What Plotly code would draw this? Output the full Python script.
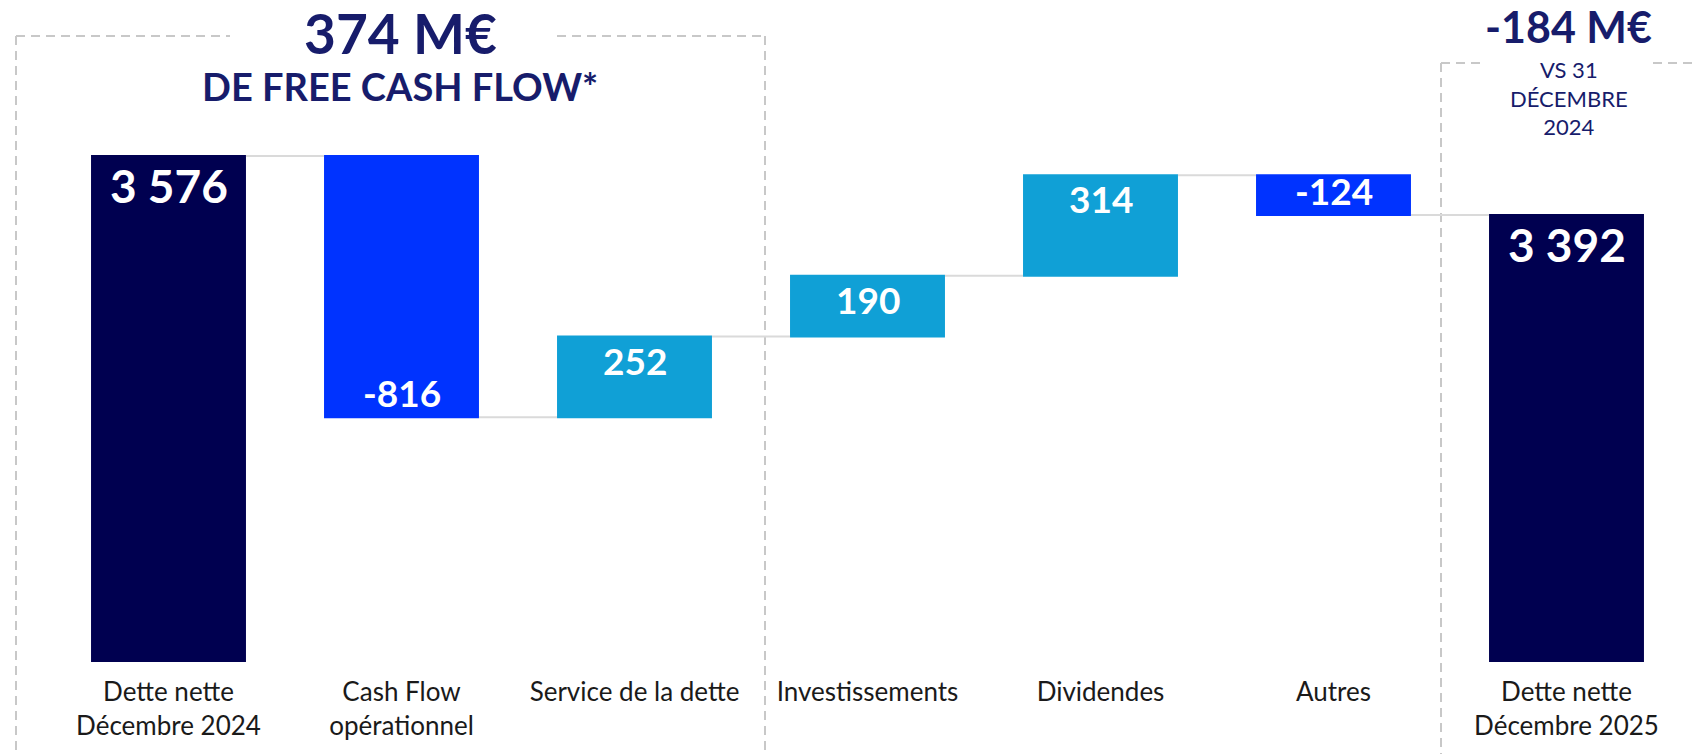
import plotly.graph_objects as go

# ---- data ----
categories = ["Dette nette<br>Décembre 2024", "Cash Flow<br>opérationnel", "Service de la dette",
              "Investissements", "Dividendes", "Autres", "Dette nette<br>Décembre 2025"]
values = [3576, -816, 252, 190, 314, -124, 3392]
measures = ["absolute", "relative", "relative", "relative", "relative", "relative", "total"]
free_cash_flow_label = "374 M€"
variation_label = "-184 M€"

# ---- style ----
W, H = 1693, 754
ML, MR, MT, MB = 52, 10, 100, 92
NAVY = "#000050"
BLUE = "#0033FF"
LIGHT = "#10A0D6"
TITLE = "#171C6B"
DASH = "#C8C8C8"
FONT = "Lato"

def fmt(v):
    s = f"{abs(v):,}".replace(",", " ")
    return ("-" if v < 0 else "") + s

fig = go.Figure(go.Waterfall(
    x=categories, y=values, measure=measures,
    textposition="none",
    totals=dict(marker=dict(color=NAVY)),
    increasing=dict(marker=dict(color=LIGHT)),
    decreasing=dict(marker=dict(color=BLUE)),
    connector=dict(line=dict(color="#DADADA", width=2)),
    width=[0.665] * len(values),
    hoverinfo="skip",
))

# value labels inside bars (positions derived from running totals)
running = 0
for cat, v, m in zip(categories, values, measures):
    if m == "absolute":
        start, end = 0, v
        running = v
    elif m == "total":
        start, end = 0, running
    else:
        start, end = running, running + v
        running = end
    is_total = m in ("absolute", "total")
    if end >= start:
        ya, ys = "top", 0 if is_total else 1
    else:
        ya, ys = "bottom", 0
    fig.add_annotation(
        x=cat, y=end, xref="x", yref="y", yanchor=ya, yshift=ys, xanchor="center",
        text=f"<b>{fmt(v if m != 'total' else running)}</b>",
        showarrow=False,
        font=dict(family=FONT, size=46 if is_total else 37, color="white"),
    )

pw = W - ML - MR
ph = H - MT - MB

def px_x(x):
    return (x - ML) / pw

def px_y(y):
    return (H - MB - y) / ph

# dashed frames
segs = [
    (16, 36, 230, 36), (557, 36, 765, 36), (16, 36, 16, 760), (765, 36, 765, 760),
    (1441, 63, 1482, 63), (1653, 63, 1700, 63), (1441, 63, 1441, 760),
]
for x0, y0, x1, y1 in segs:
    fig.add_shape(type="line", xref="paper", yref="paper",
                  x0=px_x(x0), y0=px_y(y0), x1=px_x(x1), y1=px_y(y1),
                  line=dict(color=DASH, width=2, dash="9px,6px"), layer="below")

# headline texts
fig.add_annotation(x=px_x(400), y=px_y(33), xref="paper", yref="paper", showarrow=False,
                   text=f"<b>{free_cash_flow_label}</b>", yanchor="middle", xanchor="center",
                   font=dict(family=FONT, size=55, color=TITLE, weight=900))
fig.add_annotation(x=px_x(400), y=px_y(86), xref="paper", yref="paper", showarrow=False,
                   text="<b>DE FREE CASH FLOW*</b>", yanchor="middle", xanchor="center",
                   font=dict(family=FONT, size=38, color=TITLE, weight=900))
fig.add_annotation(x=px_x(1568), y=px_y(26), xref="paper", yref="paper", showarrow=False,
                   text=f"<b>{variation_label}</b>", yanchor="middle", xanchor="center",
                   font=dict(family=FONT, size=43, color=TITLE, weight=900))
fig.add_annotation(x=px_x(1569), y=px_y(98), xref="paper", yref="paper", showarrow=False,
                   text="VS 31<br>DÉCEMBRE<br>2024", yanchor="middle", xanchor="center",
                   font=dict(family=FONT, size=22, color=TITLE))

fig.update_layout(
    width=W, height=H,
    margin=dict(l=ML, r=MR, t=MT, b=MB),
    paper_bgcolor="white", plot_bgcolor="white",
    showlegend=False,
    xaxis=dict(showgrid=False, zeroline=False, showline=False, ticks="",
               tickfont=dict(family=FONT, size=26, color="#1A1A1A"),
               ticklabelstandoff=12,
               range=[-0.5, 6.5]),
    yaxis=dict(visible=False, range=[1995, 3751]),
)

fig.write_html("out.html", config={"displayModeBar": False},
               post_script="document.body.style.margin='0';")
